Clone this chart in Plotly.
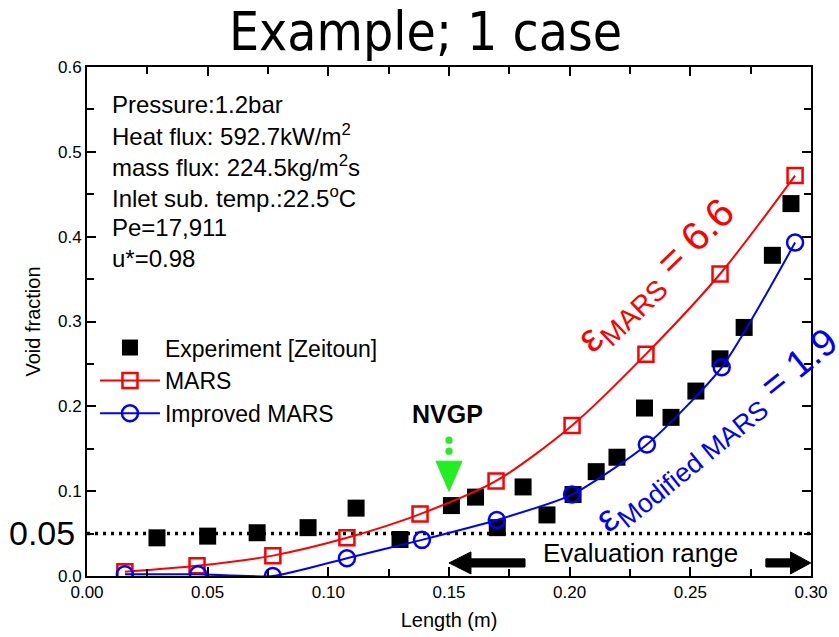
import plotly.graph_objects as go

# ---------------- data ----------------
exp_x = [0.029, 0.050, 0.0705, 0.0916, 0.1115, 0.1297, 0.151, 0.161, 0.170, 0.1807,
         0.1906, 0.2014, 0.211, 0.2196, 0.231, 0.242, 0.2523, 0.2623, 0.2723, 0.284, 0.2917]
exp_y = [0.045, 0.047, 0.051, 0.057, 0.080, 0.043, 0.083, 0.093, 0.057, 0.105,
         0.072, 0.096, 0.123, 0.140, 0.198, 0.187, 0.218, 0.256, 0.293, 0.378, 0.439]

mars_x = [0.0157, 0.0456, 0.077, 0.1077, 0.138, 0.1695, 0.201, 0.2316, 0.2623, 0.2934]
mars_y = [0.005, 0.012, 0.024, 0.045, 0.073, 0.112, 0.1775, 0.2615, 0.356, 0.472]

imp_x = [0.0157, 0.046, 0.077, 0.1077, 0.1388, 0.1698, 0.201, 0.232, 0.263, 0.2934]
imp_y = [0.002, 0.002, 0.0, 0.021, 0.0426, 0.066, 0.096, 0.155, 0.246, 0.393]

threshold = 0.05
x_ticks = [0.00, 0.05, 0.10, 0.15, 0.20, 0.25, 0.30]
y_ticks = [0.0, 0.1, 0.2, 0.3, 0.4, 0.5, 0.6]

info_lines = ["Pressure:1.2bar",
              "Heat flux: 592.7kW/m<sup>2</sup>",
              "mass flux: 224.5kg/m<sup>2</sup>s",
              "Inlet sub. temp.:22.5<sup>o</sup>C",
              "Pe=17,911",
              "u*=0.98"]

FONT = "Arial, Liberation Sans, sans-serif"

fig = go.Figure()
fig.add_trace(go.Scatter(x=exp_x, y=exp_y, mode="markers", name="Experiment [Zeitoun]",
                         marker=dict(symbol="square", size=17, color="black")))
fig.add_trace(go.Scatter(x=mars_x, y=mars_y, mode="lines+markers", name="MARS",
                         line=dict(color="#ff0000", width=2, shape="spline", smoothing=0.8),
                         marker=dict(symbol="square-open", size=15, color="#ff0000",
                                     line=dict(width=2.5, color="#ff0000"))))
fig.add_trace(go.Scatter(x=imp_x, y=imp_y, mode="lines+markers", name="Improved MARS",
                         line=dict(color="#0000ff", width=2, shape="spline", smoothing=0.6),
                         marker=dict(symbol="circle-open", size=16, color="#0000ff",
                                     line=dict(width=2.5, color="#0000ff"))))

shapes = []
# dotted 0.05 threshold line
shapes.append(dict(type="line", xref="x", yref="y", x0=0, x1=0.3, y0=threshold, y1=threshold,
                   line=dict(color="black", width=3.5, dash="3px,5px"), layer="below"))
# NVGP green arrow (pixel-sized, anchored at data point)
shapes.append(dict(type="path", xref="x", yref="y", xsizemode="pixel", ysizemode="pixel",
                   xanchor=0.15, yanchor=0.1, path="M -13,30 L 13,30 L 0,0 Z",
                   fillcolor="#22ee22", line=dict(color="#22ee22", width=1)))
for cy in (40, 51):
    shapes.append(dict(type="circle", xref="x", yref="y", xsizemode="pixel", ysizemode="pixel",
                       xanchor=0.15, yanchor=0.1, x0=-3.6, x1=3.6, y0=cy - 3.6, y1=cy + 3.6,
                       fillcolor="#22ee22", line=dict(color="#22ee22", width=0)))
# Evaluation range arrows
yc, sh, hh = 0.0154, 0.0048, 0.013
shapes.append(dict(type="path", xref="x", yref="y", fillcolor="black", line=dict(color="black", width=1),
                   path=f"M 0.150,{yc} L 0.1591,{yc+hh} L 0.1591,{yc+sh} L 0.1815,{yc+sh} "
                        f"L 0.1815,{yc-sh} L 0.1591,{yc-sh} L 0.1591,{yc-hh} Z"))
shapes.append(dict(type="path", xref="x", yref="y", fillcolor="black", line=dict(color="black", width=1),
                   path=f"M 0.2999,{yc} L 0.2915,{yc+hh} L 0.2915,{yc+sh} L 0.2813,{yc+sh} "
                        f"L 0.2813,{yc-sh} L 0.2915,{yc-sh} L 0.2915,{yc-hh} Z"))

annotations = []
ys = [0.927, 0.866, 0.8055, 0.7446, 0.6837, 0.6228]
for t, yy in zip(info_lines, ys):
    annotations.append(dict(text=t, xref="paper", yref="paper", x=0.0318, y=yy,
                            xanchor="left", yanchor="middle", showarrow=False,
                            font=dict(family=FONT, size=24, color="black")))
annotations.append(dict(text="Example; 1 case", xref="paper", yref="paper", x=0.468, y=1.069,
                        xanchor="center", yanchor="middle", showarrow=False,
                        font=dict(family="DejaVu Sans Condensed, Liberation Sans Narrow, sans-serif",
                                  size=53, color="black")))
annotations.append(dict(text="0.05", xref="paper", yref="paper", x=-0.062, y=0.0845,
                        xanchor="center", yanchor="middle", showarrow=False,
                        font=dict(family=FONT, size=34, color="black")))
annotations.append(dict(text="<b>NVGP</b>", xref="paper", yref="paper", x=0.4986, y=0.318,
                        xanchor="center", yanchor="middle", showarrow=False,
                        font=dict(family=FONT, size=25, color="black")))
annotations.append(dict(text="Evaluation range", xref="paper", yref="paper", x=0.764, y=0.045,
                        xanchor="center", yanchor="middle", showarrow=False,
                        font=dict(family=FONT, size=26, color="black")))
annotations.append(dict(text="ε<sub>MARS</sub> = 6.6", xref="paper", yref="paper", x=0.787, y=0.588,
                        xanchor="center", yanchor="middle", showarrow=False, textangle=-44,
                        font=dict(family=FONT, size=40, color="#ff0000")))
annotations.append(dict(text="ε<sub>Modified MARS</sub> = 1.9", xref="paper", yref="paper", x=0.872, y=0.283,
                        xanchor="center", yanchor="middle", showarrow=False, textangle=-39,
                        font=dict(family=FONT, size=38, color="#0000ff")))

axis_common = dict(showline=True, linecolor="black", linewidth=2, mirror="allticks",
                   ticks="inside", ticklen=9, tickwidth=1.5, tickcolor="black",
                   showgrid=False, zeroline=False, automargin=False,
                   tickfont=dict(family=FONT, size=17, color="black"))

fig.update_layout(
    width=839, height=637,
    margin=dict(l=87, r=28, t=67, b=61),
    paper_bgcolor="white", plot_bgcolor="white",
    shapes=shapes, annotations=annotations,
    xaxis=dict(range=[0, 0.3], tickvals=x_ticks, ticktext=[f"{v:.2f}" for v in x_ticks],
               title=dict(text="Length (m)", font=dict(family=FONT, size=20, color="black"), standoff=12),
               minor=dict(dtick=0.025, ticks="inside", ticklen=7, tickcolor="black", tickwidth=1.5),
               **axis_common),
    yaxis=dict(range=[0, 0.6], tickvals=y_ticks, ticktext=[f"{v:.1f}" for v in y_ticks],
               title=dict(text="Void fraction", font=dict(family=FONT, size=20, color="black"), standoff=12),
               minor=dict(dtick=0.05, ticks="inside", ticklen=7, tickcolor="black", tickwidth=1.5),
               **axis_common),
    legend=dict(x=0.011, y=0.491, xanchor="left", yanchor="top", bgcolor="rgba(0,0,0,0)",
                font=dict(family=FONT, size=23, color="black"), itemwidth=60,
                tracegroupgap=0),
    showlegend=True,
)

fig.write_html("out.html")
